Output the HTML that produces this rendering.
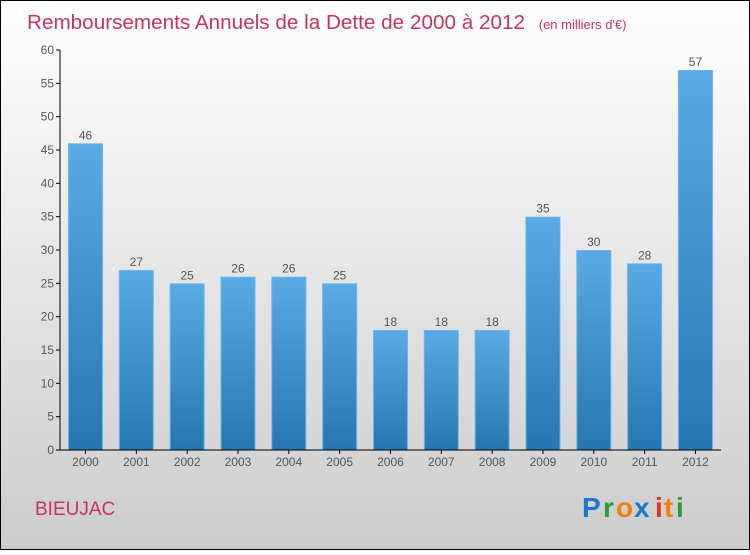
<!DOCTYPE html>
<html><head><meta charset="utf-8"><style>
html,body{margin:0;padding:0}
body{width:750px;height:550px;overflow:hidden;font-family:"Liberation Sans",sans-serif}
</style></head><body>
<svg width="750" height="550" xmlns="http://www.w3.org/2000/svg">
<defs>
<linearGradient id="bg" x1="0" y1="0" x2="0" y2="1"><stop offset="0" stop-color="#ffffff"/><stop offset="1" stop-color="#cccccc"/></linearGradient>
<linearGradient id="bar" x1="0" y1="0" x2="0" y2="1"><stop offset="0" stop-color="#5aaae6"/><stop offset="1" stop-color="#2676b2"/></linearGradient>
</defs>
<rect x="0.5" y="0.5" width="749" height="549" fill="url(#bg)" stroke="#000"/>
<text x="27" y="29" font-size="20.7" fill="#c8325f">Remboursements Annuels de la Dette de 2000 à 2012 <tspan font-size="13" dx="8">(en milliers d'€)</tspan></text>
<g id="yaxis"></g>
<g id="bars"></g>
<line x1="60" y1="450" x2="721" y2="450" stroke="#000"/>
<line x1="60" y1="50" x2="60" y2="450" stroke="#000"/>
<text x="35" y="515" font-size="19" fill="#c8325f">BIEUJAC</text>
<g font-size="28" font-weight="bold">
<text x="582" y="517" fill="#1a78d0">P</text><text x="603" y="517" fill="#2a9a3a">r</text><text x="616" y="517" fill="#f08010">o</text><text x="634" y="517" fill="#1a78d0">x</text><text x="655" y="517" fill="#e03020">i</text><text x="664" y="517" fill="#f08010">t</text><text x="676" y="517" fill="#2a9a3a">i</text>
</g>
</svg>
<script>
const years=["2000","2001","2002","2003","2004","2005","2006","2007","2008","2009","2010","2011","2012"];
const values=[46,27,25,26,26,25,18,18,18,35,30,28,57];
const yTicks=[0,5,10,15,20,25,30,35,40,45,50,55,60];
const NS="http://www.w3.org/2000/svg";
const y=v=>450-v*400/60;
const x=i=>68+i*50.83;
const ya=document.getElementById('yaxis'),bg=document.getElementById('bars');
function mk(tag,attrs,txt){const e=document.createElementNS(NS,tag);for(const k in attrs)e.setAttribute(k,attrs[k]);if(txt!==undefined)e.textContent=txt;return e;}
yTicks.forEach(t=>{
 const l=mk('line',{x1:56,x2:60,y1:y(t),y2:y(t),stroke:'#000'});
 
 
 ya.appendChild(l);
 const tx=mk('text',{x:54,y:y(t)+4,'font-size':12,fill:'#555','text-anchor':'end'},t);
 
 
 ya.appendChild(tx);
});
values.forEach((v,i)=>{
 const r=mk('rect',{x:x(i)+0.5,y:y(v)+0.5,width:34,height:450-y(v)-0.5,fill:'url(#bar)',stroke:'#6ab6ec','stroke-width':1});
 
 
 bg.appendChild(r);
 const lb=mk('text',{x:x(i)+17.5,y:y(v)-4,'font-size':12,fill:'#555','text-anchor':'middle'},v);
 
 
 bg.appendChild(lb);
 const tk=mk('line',{x1:x(i)+17.5,x2:x(i)+17.5,y1:450,y2:454,stroke:'#000'});
 
 
 bg.appendChild(tk);
 const xl=mk('text',{x:x(i)+17.5,y:466,'font-size':12,fill:'#555','text-anchor':'middle'},years[i]);
 
 
 bg.appendChild(xl);
});
</script>
</body></html>
